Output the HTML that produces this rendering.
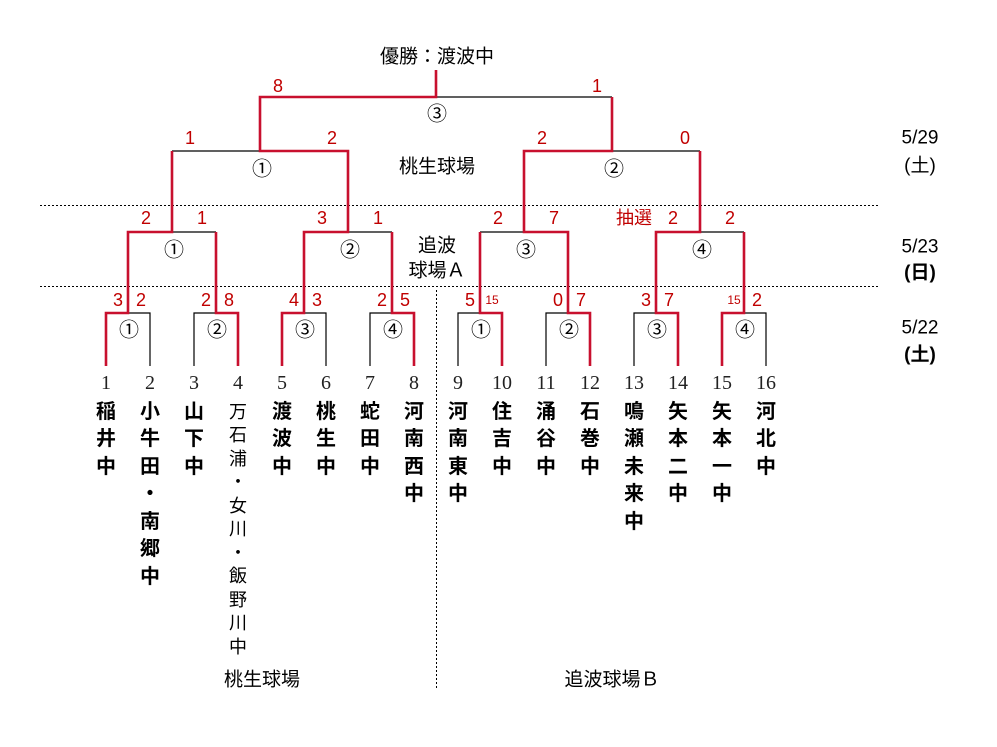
<!DOCTYPE html>
<html><head><meta charset="utf-8"><style>
html,body{margin:0;padding:0;background:#fff;}
svg{display:block;}
text{font-family:"Liberation Sans","Noto Sans CJK JP",sans-serif;}
.s{fill:#c00000;font-size:18px;text-anchor:middle;dominant-baseline:central;}
.s2{fill:#c00000;font-size:12px;text-anchor:middle;dominant-baseline:central;}
.c{fill:#000;font-size:20px;text-anchor:middle;dominant-baseline:central;font-family:"Noto Sans CJK JP","WenQuanYi Zen Hei",sans-serif;}
.n{fill:#222;font-size:20px;text-anchor:middle;dominant-baseline:central;font-family:"Liberation Serif",serif;}
.t{fill:#000;font-size:20px;font-weight:bold;text-anchor:middle;dominant-baseline:central;}
.t4{fill:#000;font-size:18px;text-anchor:middle;dominant-baseline:central;}
.l{fill:#000;font-size:19px;text-anchor:middle;dominant-baseline:central;}
.r{stroke:#c8102e;stroke-width:2.6;fill:none;}
.b{stroke:#000;stroke-width:1.2;fill:none;}
.d{stroke:#000;stroke-width:1;stroke-dasharray:2,2;fill:none;}
</style></head><body>
<svg width="997" height="747" viewBox="0 0 997 747" xmlns="http://www.w3.org/2000/svg">
<line class="d" x1="40" y1="205.5" x2="878" y2="205.5"/>
<line class="d" x1="40" y1="286.5" x2="878" y2="286.5"/>
<line class="d" x1="436.5" y1="290" x2="436.5" y2="690"/>

<g class="b">
<path d="M128 313H150V366"/>
<path d="M194 366V313H216"/>
<path d="M304 313H326V366"/>
<path d="M370 366V313H392"/>
<path d="M458 366V313H480"/>
<path d="M546 366V313H568"/>
<path d="M634 366V313H656"/>
<path d="M744 313H766V366"/>
<path d="M172 232H216"/>
<path d="M348 232H392"/>
<path d="M480 232H524"/>
<path d="M700 232H744"/>
<path d="M172 151H260"/>
<path d="M612 151H700"/>
<path d="M436 97H612"/>
</g>
<g class="r">
<path d="M106 366V313H128V232H172V151"/>
<path d="M238 366V313H216V232"/>
<path d="M282 366V313H304V232H348V151H260V97H436V70"/>
<path d="M414 366V313H392V232"/>
<path d="M502 366V313H480V232"/>
<path d="M590 366V313H568V232H524V151H612V97"/>
<path d="M678 366V313H656V232H700V151"/>
<path d="M722 366V313H744V232"/>
</g>

<text class="s" x="118" y="300">3</text><text class="s" x="141" y="300">2</text>
<text class="s" x="206" y="300">2</text><text class="s" x="229" y="300">8</text>
<text class="s" x="294" y="300">4</text><text class="s" x="317" y="300">3</text>
<text class="s" x="382" y="300">2</text><text class="s" x="405" y="300">5</text>
<text class="s" x="470" y="300">5</text><text class="s2" x="492" y="300">15</text>
<text class="s" x="558" y="300">0</text><text class="s" x="581" y="300">7</text>
<text class="s" x="646" y="300">3</text><text class="s" x="669" y="300">7</text>
<text class="s2" x="734" y="300">15</text><text class="s" x="757" y="300">2</text>
<text class="s" x="146" y="218">2</text><text class="s" x="202" y="218">1</text>
<text class="s" x="322" y="218">3</text><text class="s" x="378" y="218">1</text>
<text class="s" x="498" y="218">2</text><text class="s" x="554" y="218">7</text>
<text class="s" x="634" y="218">抽選</text><text class="s" x="673" y="218">2</text><text class="s" x="730" y="218">2</text>
<text class="s" x="190" y="138">1</text><text class="s" x="332" y="138">2</text>
<text class="s" x="542" y="138">2</text><text class="s" x="685" y="138">0</text>
<text class="s" x="278" y="86">8</text><text class="s" x="597" y="86">1</text>

<text class="c" x="129" y="328">①</text><text class="c" x="217" y="328">②</text>
<text class="c" x="305" y="328">③</text><text class="c" x="393" y="328">④</text>
<text class="c" x="481" y="328">①</text><text class="c" x="569" y="328">②</text>
<text class="c" x="657" y="328">③</text><text class="c" x="745" y="328">④</text>
<text class="c" x="174" y="248">①</text><text class="c" x="350" y="248">②</text>
<text class="c" x="526" y="248">③</text><text class="c" x="702" y="248">④</text>
<text class="c" x="262" y="167">①</text><text class="c" x="614" y="167">②</text>
<text class="c" x="437" y="112">③</text>

<text class="l" x="437" y="57">優勝：渡波中</text>
<text class="l" x="437" y="167">桃生球場</text>
<text class="l" x="437" y="246">追波</text>
<text class="l" x="437" y="271">球場Ａ</text>
<text class="l" x="262" y="680">桃生球場</text>
<text class="l" x="612" y="680">追波球場Ｂ</text>
<text class="l" x="920" y="138">5/29</text>
<text class="l" x="920" y="166">(土)</text>
<text class="l" x="920" y="247">5/23</text>
<text class="l" x="920" y="273" font-weight="bold">(日)</text>
<text class="l" x="920" y="328">5/22</text>
<text class="l" x="920" y="355" font-weight="bold">(土)</text>

<g>
<text class="n" x="106" y="383">1</text><text class="n" x="150" y="383">2</text>
<text class="n" x="194" y="383">3</text><text class="n" x="238" y="383">4</text>
<text class="n" x="282" y="383">5</text><text class="n" x="326" y="383">6</text>
<text class="n" x="370" y="383">7</text><text class="n" x="414" y="383">8</text>
<text class="n" x="458" y="383">9</text><text class="n" x="502" y="383">10</text>
<text class="n" x="546" y="383">11</text><text class="n" x="590" y="383">12</text>
<text class="n" x="634" y="383">13</text><text class="n" x="678" y="383">14</text>
<text class="n" x="722" y="383">15</text><text class="n" x="766" y="383">16</text>
</g>

<g>
<text class="t" x="106" y="412">稲</text><text class="t" x="106" y="439">井</text><text class="t" x="106" y="467">中</text>
<text class="t" x="150" y="412">小</text><text class="t" x="150" y="439">牛</text><text class="t" x="150" y="467">田</text><text class="t" x="150" y="494">・</text><text class="t" x="150" y="522">南</text><text class="t" x="150" y="549">郷</text><text class="t" x="150" y="577">中</text>
<text class="t" x="194" y="412">山</text><text class="t" x="194" y="439">下</text><text class="t" x="194" y="467">中</text>
<text class="t4" x="238" y="412">万</text><text class="t4" x="238" y="435">石</text><text class="t4" x="238" y="459">浦</text><text class="t4" x="238" y="482">・</text><text class="t4" x="238" y="506">女</text><text class="t4" x="238" y="529">川</text><text class="t4" x="238" y="553">・</text><text class="t4" x="238" y="576">飯</text><text class="t4" x="238" y="600">野</text><text class="t4" x="238" y="623">川</text><text class="t4" x="238" y="647">中</text>
<text class="t" x="282" y="412">渡</text><text class="t" x="282" y="439">波</text><text class="t" x="282" y="467">中</text>
<text class="t" x="326" y="412">桃</text><text class="t" x="326" y="439">生</text><text class="t" x="326" y="467">中</text>
<text class="t" x="370" y="412">蛇</text><text class="t" x="370" y="439">田</text><text class="t" x="370" y="467">中</text>
<text class="t" x="414" y="412">河</text><text class="t" x="414" y="439">南</text><text class="t" x="414" y="467">西</text><text class="t" x="414" y="494">中</text>
<text class="t" x="458" y="412">河</text><text class="t" x="458" y="439">南</text><text class="t" x="458" y="467">東</text><text class="t" x="458" y="494">中</text>
<text class="t" x="502" y="412">住</text><text class="t" x="502" y="439">吉</text><text class="t" x="502" y="467">中</text>
<text class="t" x="546" y="412">涌</text><text class="t" x="546" y="439">谷</text><text class="t" x="546" y="467">中</text>
<text class="t" x="590" y="412">石</text><text class="t" x="590" y="439">巻</text><text class="t" x="590" y="467">中</text>
<text class="t" x="634" y="412">鳴</text><text class="t" x="634" y="439">瀬</text><text class="t" x="634" y="467">未</text><text class="t" x="634" y="494">来</text><text class="t" x="634" y="522">中</text>
<text class="t" x="678" y="412">矢</text><text class="t" x="678" y="439">本</text><text class="t" x="678" y="467">二</text><text class="t" x="678" y="494">中</text>
<text class="t" x="722" y="412">矢</text><text class="t" x="722" y="439">本</text><text class="t" x="722" y="467">一</text><text class="t" x="722" y="494">中</text>
<text class="t" x="766" y="412">河</text><text class="t" x="766" y="439">北</text><text class="t" x="766" y="467">中</text>
</g>
</svg>
</body></html>
